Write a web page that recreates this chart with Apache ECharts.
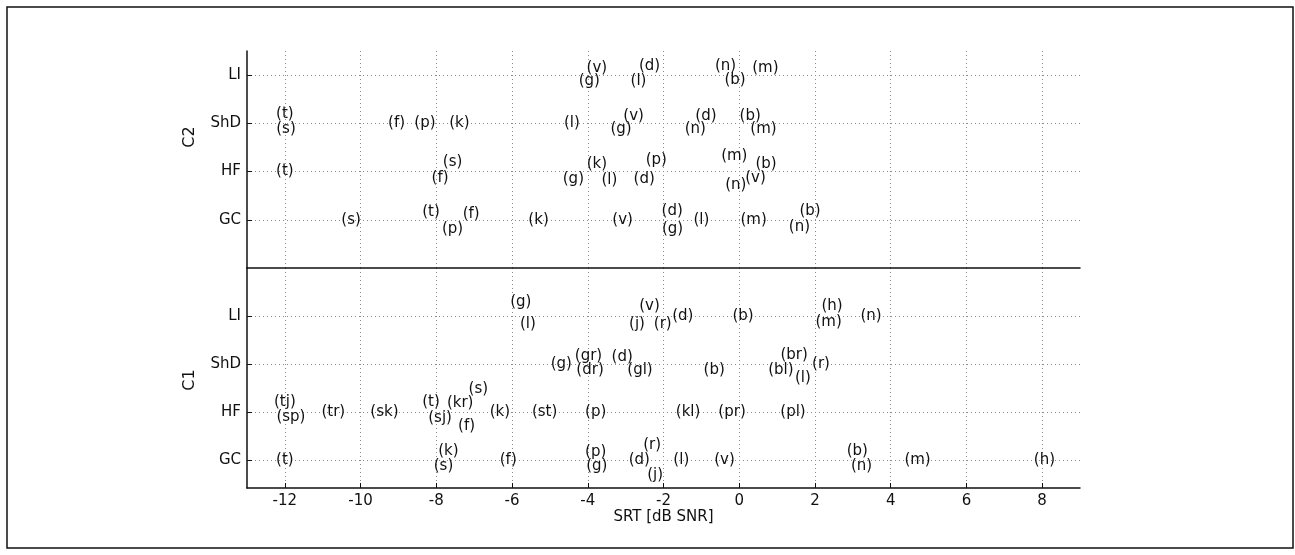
<!DOCTYPE html>
<html>
<head>
<meta charset="utf-8">
<title>SRT per condition</title>
<script src="https://cdn.jsdelivr.net/npm/echarts@6.0.0/dist/echarts.min.js"></script>
<style>
    html, body { margin: 0; padding: 0; background: #fff; }
    #chart { width: 1295px; height: 555px; }
</style>
</head>
<body>
<div id="chart"></div>
<script>
// categories on the y axis, value 1..4 from bottom to top
var categories = ['GC', 'HF', 'ShD', 'LI'];
var xTicks = [-12, -10, -8, -6, -4, -2, 0, 2, 4, 6, 8];
var yTicks = [1, 2, 3, 4];

// each entry: [SRT (dB SNR), y position, tag]
// C2 panel (top)
var c2LI = [[-3.76, 4.15, 'v'], [-3.96, 3.87, 'g'], [-2.66, 3.87, 'l'], [-2.37, 4.19, 'd'],
    [-0.36, 4.19, 'n'], [-0.11, 3.89, 'b'], [0.69, 4.15, 'm']];
var c2ShD = [[-12.0, 3.19, 't'], [-11.97, 2.88, 's'], [-9.05, 3, 'f'], [-8.30, 3, 'p'],
    [-7.39, 3, 'k'], [-4.42, 3, 'l'], [-3.12, 2.88, 'g'], [-2.79, 3.16, 'v'],
    [-0.88, 3.16, 'd'], [-1.16, 2.88, 'n'], [0.29, 3.16, 'b'], [0.64, 2.88, 'm']];
var c2HF = [[-12.0, 2, 't'], [-7.90, 1.87, 'f'], [-7.57, 2.2, 's'], [-4.38, 1.85, 'g'],
    [-3.76, 2.16, 'k'], [-3.43, 1.83, 'l'], [-2.51, 1.85, 'd'], [-2.19, 2.23, 'p'],
    [-0.13, 2.31, 'm'], [0.71, 2.16, 'b'], [-0.09, 1.71, 'n'], [0.43, 1.87, 'v']];
var c2GC = [[-10.25, 1, 's'], [-8.14, 1.16, 't'], [-7.57, 0.81, 'p'], [-7.08, 1.12, 'f'],
    [-5.30, 1, 'k'], [-3.08, 1, 'v'], [-1.77, 1.19, 'd'], [-1.76, 0.81, 'g'],
    [-1.0, 1, 'l'], [0.38, 1, 'm'], [1.59, 0.85, 'n'], [1.87, 1.17, 'b']];

// C1 panel (bottom)
var c1LI = [[-5.77, 4.29, 'g'], [-5.58, 3.83, 'l'], [-2.70, 3.83, 'j'], [-2.37, 4.21, 'v'],
    [-2.02, 3.83, 'r'], [-1.49, 4, 'd'], [0.10, 4, 'b'], [2.45, 4.21, 'h'],
    [2.36, 3.88, 'm'], [3.48, 4, 'n']];
var c1ShD = [[-4.70, 3, 'g'], [-3.98, 3.17, 'gr'], [-3.94, 2.88, 'dr'], [-3.09, 3.15, 'd'],
    [-2.62, 2.88, 'gl'], [-0.66, 2.88, 'b'], [1.45, 3.18, 'br'], [1.10, 2.88, 'bl'],
    [1.68, 2.71, 'l'], [2.16, 3, 'r']];
var c1HF = [[-12.0, 2.21, 'tj'], [-11.84, 1.9, 'sp'], [-10.72, 2, 'tr'], [-9.37, 2, 'sk'],
    [-8.14, 2.21, 't'], [-7.90, 1.87, 'sj'], [-7.37, 2.19, 'kr'], [-6.89, 2.47, 's'],
    [-7.20, 1.71, 'f'], [-6.32, 2, 'k'], [-5.14, 2, 'st'], [-3.79, 2, 'p'],
    [-1.35, 2, 'kl'], [-0.19, 2, 'pr'], [1.42, 2, 'pl']];
var c1GC = [[-12.0, 1, 't'], [-7.68, 1.19, 'k'], [-7.81, 0.87, 's'], [-6.10, 1, 'f'],
    [-3.79, 1.17, 'p'], [-3.76, 0.87, 'g'], [-2.64, 1, 'd'], [-2.30, 1.31, 'r'],
    [-2.22, 0.69, 'j'], [-1.53, 1, 'l'], [-0.39, 1, 'v'], [3.12, 1.19, 'b'],
    [3.23, 0.87, 'n'], [4.71, 1, 'm'], [8.06, 1, 'h']];

var c2Items = c2LI.concat(c2ShD, c2HF, c2GC);
var c1Items = c1LI.concat(c1ShD, c1HF, c1GC);

var ink = '#111';
var font = 'DejaVu Sans';
var dotted = { show: true, lineStyle: { color: '#888', type: [1, 3], width: 1 } };

function xAxisFor(idx, withLabels) {
    return {
        type: 'value', gridIndex: idx, min: -13, max: 9,
        axisLine: { show: true, onZero: false, lineStyle: { color: ink, width: 1.5 } },
        axisTick: { show: withLabels, inside: true, length: 5, customValues: xTicks,
            lineStyle: { color: ink } },
        axisLabel: { show: withLabels, customValues: xTicks, color: ink, margin: 6,
            fontFamily: font, fontSize: 15 },
        splitLine: dotted,
        name: withLabels ? 'SRT [dB SNR]' : '',
        nameLocation: 'middle', nameGap: 19,
        nameTextStyle: { color: ink, fontFamily: font, fontSize: 15 }
    };
}

function yAxisFor(idx, lo, hi) {
    return {
        type: 'value', gridIndex: idx, min: lo, max: hi,
        axisLine: { show: true, onZero: false, lineStyle: { color: ink, width: 1.5 } },
        axisTick: { show: true, inside: true, length: 5, customValues: yTicks,
            lineStyle: { color: ink } },
        axisLabel: {
            customValues: yTicks, color: ink, margin: 6,
            fontFamily: font, fontSize: 15,
            formatter: function (v) { return categories[Math.round(v) - 1] || ''; }
        },
        splitLine: dotted
    };
}

function tagSeries(items, idx) {
    return {
        type: 'scatter', xAxisIndex: idx, yAxisIndex: idx,
        symbolSize: 1, silent: true,
        itemStyle: { color: 'transparent' },
        label: {
            show: true, position: 'inside', color: ink, opacity: 1,
            textBorderWidth: 0, fontFamily: font, fontSize: 15,
            formatter: function (p) { return '(' + p.data[2] + ')'; }
        },
        data: items
    };
}

var chart = echarts.init(document.getElementById('chart'));
chart.setOption({
    animation: false,
    backgroundColor: '#fff',
    grid: [
        { left: 247, right: 215, top: 51, height: 217 },
        { left: 247, right: 215, top: 268, height: 220 }
    ],
    xAxis: [xAxisFor(0, false), xAxisFor(1, true)],
    yAxis: [yAxisFor(0, 0, 4.5), yAxisFor(1, 0.42, 5)],
    series: [tagSeries(c2Items, 0), tagSeries(c1Items, 1)],
    graphic: [
        { type: 'rect', shape: { x: 7, y: 7, width: 1286, height: 541 },
            style: { fill: 'none', stroke: '#111', lineWidth: 1.5 }, silent: true },
        { type: 'text', x: 190, y: 137, rotation: Math.PI / 2,
            style: { text: 'C2', fill: ink, font: '16px "DejaVu Sans"',
                textAlign: 'center', textVerticalAlign: 'middle' } },
        { type: 'text', x: 190, y: 380, rotation: Math.PI / 2,
            style: { text: 'C1', fill: ink, font: '16px "DejaVu Sans"',
                textAlign: 'center', textVerticalAlign: 'middle' } }
    ]
});
</script>
</body>
</html>
